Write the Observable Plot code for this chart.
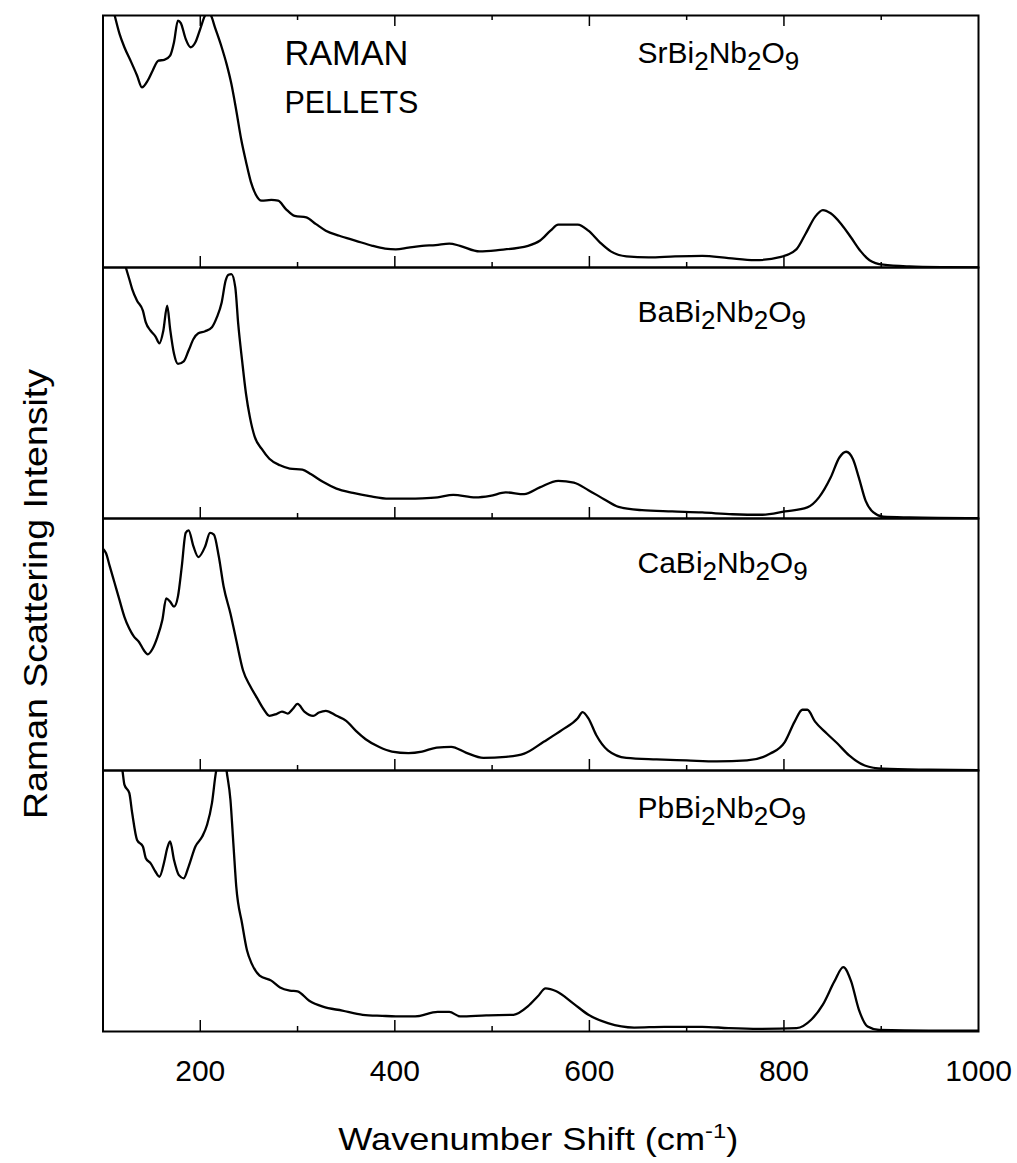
<!DOCTYPE html>
<html>
<head>
<meta charset="utf-8">
<script src="https://cdn.jsdelivr.net/npm/d3@7"></script>
<script src="https://cdn.jsdelivr.net/npm/@observablehq/plot@0.6"></script>
<style>
  body { margin: 0; background: #fff; }
  #chart { position: relative; width: 1017px; height: 1163px; background: #fff;
           font-family: "Liberation Sans", Arial, Helvetica, sans-serif; color: #000; }
  #chart svg { position: absolute; left: 0; overflow: visible; }
</style>
</head>
<body>
<div id="chart"></div>
<script>
// Raman spectra of Aurivillius-phase pellets: [wavenumber shift (cm-1), relative intensity (% of panel full scale)]
const srSpectrum = [
  [100,118],[106,109],[112,100],[117,92.7],[122,87.4],[129,81.5],[135,76.2],[140,71.5],[146,74.2],
  [151,78.1],[157,82.1],[163,82.4],[169,84.1],[173,89.4],[177,98],[180,97],[185,90.7],[190,87.4],
  [195,89.4],[200,94.7],[205,100],[208,101],[211,100],[215,95.4],[222,87.4],[227,80.8],[232,72.8],
  [237,62.3],[242,51],[247,42],[252,34],[257,29],[263,26.5],[273,26.8],[280,26.5],[288,23.2],
  [297,20.5],[309,19.9],[319,17.2],[329,14.6],[343,12.6],[360,10.6],[377,8.6],[390,7.5],[401,7.2],
  [414,7.9],[428,8.6],[442,8.9],[456,9.5],[467,8.6],[487,6.4],[506,6.9],[537,8.6],[549,10.6],
  [560,14.6],[568,17],[588,17],[599,14.6],[611,9.9],[622,6.4],[638,4.4],[661,4],[688,4.4],[716,4.6],
  [743,3.7],[770,2.9],[797,4.2],[813,7.3],[822,13.2],[832,20.1],[840,22.8],[848,21.5],[859,17.2],
  [869,11.9],[879,6.4],[888,2.9],[902,1.1],[929,0.4],[968,0.1],[1000,0]
];
const baSpectrum = [
  [100,126],[112,113],[124,99.3],[127,95.4],[130,91.4],[135,86.8],[141,82.8],[144,78.1],[149,74.8],
  [154,72.5],[158,69.8],[162,74.8],[166,84.8],[169,75.5],[173,65.6],[177,61.6],[183,62.6],[188,66.9],
  [193,71.5],[198,73.8],[205,74.6],[212,76.2],[217,80.1],[222,86.1],[226,94.7],[229,97.1],[232,97.4],
  [236,92.1],[239,77.5],[243,62.9],[247,49.7],[251,40.4],[256,32.5],[263,27.8],[271,23.8],[282,21.2],
  [292,19.9],[305,19.5],[314,17.6],[326,14.6],[340,11.9],[357,10.2],[374,8.9],[394,7.9],[414,7.9],
  [428,8.0],[444,8.4],[460,9.4],[483,8.4],[498,9.0],[514,10.4],[533,9.7],[549,12.4],[568,15],
  [584,14.3],[599,11.3],[615,7.7],[630,4.6],[654,3.3],[685,2.8],[716,2.4],[747,1.7],[778,1.5],
  [801,2.8],[824,4.4],[836,8.4],[848,16.3],[857,24.3],[864,26.6],[871,23.6],[877,16.3],[884,7],
  [892,2.4],[902,0.7],[929,0.4],[1000,0.1]
];
const caSpectrum = [
  [100,88],[103,86.3],[107,81],[112,74.3],[117,67.6],[122,61],[127,56.3],[132,53],[137,51],[142,47.7],
  [146,46.1],[151,48.3],[156,53],[161,59.7],[165,68.3],[169,67],[173,65],[177,69],[181,81],[185,94.3],
  [188,95.3],[193,88.9],[198,84.7],[205,88.9],[210,94.3],[214,93.6],[219,85],[224,73],[231,62.3],
  [237,51.7],[244,39.7],[251,33.7],[258,29],[265,24.4],[271,21.7],[278,22.4],[284,23.4],[290,22.6],
  [295,24.4],[300,26.4],[307,23.4],[316,21.7],[322,23],[329,23.7],[340,21.7],[350,19.7],[360,15.7],
  [370,12.4],[384,9.3],[397,7.5],[414,6.9],[428,7.5],[443,9.1],[458,9.4],[473,7.1],[491,5],[514,5.4],
  [533,6.7],[553,11.4],[572,16.1],[588,20.7],[593,23.2],[599,20.7],[607,14.1],[619,8],[638,5],
  [669,4.4],[700,4],[731,3.6],[762,4],[786,6.7],[801,11.4],[811,19.4],[819,24.1],[824,24.1],[832,19.4],
  [844,14.7],[855,10.7],[867,6],[883,2],[902,0.7],[949,0.3],[1000,0.1]
];
const pbSpectrum = [
  [100,135],[110,118],[120,100],[122,94.6],[127,91.4],[130,83.7],[135,73.4],[141,70.9],[144,66.4],
  [149,64.4],[154,61.2],[158,59.3],[163,65.1],[166,70.2],[169,72.8],[173,65.7],[178,59.9],[183,58.7],
  [188,63.2],[195,70.9],[202,74.7],[207,79.2],[212,87.5],[216,99.1],[219,104],[222,112],[225,106],
  [227,100],[231,88.8],[234,72.1],[237,55.5],[243,41.3],[248,31.1],[253,25.9],[261,21.4],[273,19.5],
  [282,16.9],[292,15.7],[300,15.4],[312,11.8],[326,9.5],[346,8],[367,6.4],[387,6],[401,5.8],[421,5.8],
  [444,7.5],[456,7.5],[467,5.8],[494,6.2],[522,6.4],[537,9.7],[547,13.5],[555,16.5],[566,15.4],
  [584,10.6],[599,6.4],[619,3.2],[646,1.5],[677,1.8],[716,1.8],[743,1.3],[774,1],[813,1.3],[828,4.5],
  [840,10.3],[852,19.3],[861,24.7],[869,19.3],[877,8.4],[886,1.9],[898,0.6],[949,0.3],[1000,0.3]
];

const compounds = ["SrBi2Nb2O9", "BaBi2Nb2O9", "CaBi2Nb2O9", "PbBi2Nb2O9"];
const spectra = [srSpectrum, baSpectrum, caSpectrum, pbSpectrum];
const xDomain = [100, 1000];
const majorTicks = [200, 400, 600, 800];
const minorTicks = [300, 500, 700, 900];
const tickLabels = [200, 400, 600, 800, 1000];

// stacked panel geometry (pixels)
const layout = [
  {top: 0,   marginTop: 15, inner: 252, marginBottom: 0,   labelDy: 48},
  {top: 267, marginTop: 0,  inner: 251, marginBottom: 0,   labelDy: 55},
  {top: 518, marginTop: 0,  inner: 252, marginBottom: 0,   labelDy: 55},
  {top: 770, marginTop: 0,  inner: 261, marginBottom: 132, labelDy: 48}
];

const W = 1017, ML = 102.5, MR = 39;
const chart = document.getElementById("chart");

// chemical formula with subscripted digits
function formula(sel, text, x, y) {
  const t = sel.append("text").attr("x", x).attr("y", y).attr("text-anchor", "start")
    .attr("font-size", 30).attr("fill", "#000");
  let wasSub = false;
  for (const part of text.match(/\d+|\D+/g)) {
    const isSub = /\d/.test(part);
    const dy = isSub && !wasSub ? 7 : (!isSub && wasSub ? -7 : 0);
    t.append("tspan").attr("dy", dy).attr("font-size", isSub ? 26 : 30).text(part);
    wasSub = isSub;
  }
  return t;
}

layout.forEach((p, i) => {
  const last = i === layout.length - 1;
  const fh = p.inner;
  const marks = [
    Plot.frame({strokeWidth: 2}),
    Plot.tickX(majorTicks, {x: d => d, insetTop: fh - 11, strokeWidth: 1.5}),
    Plot.tickX(minorTicks, {x: d => d, insetTop: fh - 5, strokeWidth: 1.5}),
    Plot.line(spectra[i], {x: d => d[0], y: d => d[1], stroke: "#000", strokeWidth: 2.3,
      curve: "monotone-x", clip: true})
  ];
  if (i === 0) {
    marks.push(Plot.tickX(majorTicks, {x: d => d, insetBottom: fh - 11, strokeWidth: 1.5}));
    marks.push(Plot.tickX(minorTicks, {x: d => d, insetBottom: fh - 5, strokeWidth: 1.5}));
  }
  if (last) {
    marks.push(Plot.axisX(tickLabels, {anchor: "bottom", tickSize: 0, tickPadding: 28,
      fontSize: 30, label: null, tickFormat: d => String(d)}));
  }
  const plot = Plot.plot({
    width: W,
    height: p.marginTop + fh + p.marginBottom,
    marginLeft: ML, marginRight: MR,
    marginTop: p.marginTop, marginBottom: p.marginBottom,
    x: last ? {domain: xDomain} : {domain: xDomain, axis: null},
    y: {domain: [0, 100], axis: null},
    style: {background: "transparent", fontFamily: "Liberation Sans, Arial, sans-serif",
      fontSize: "30px", color: "#000", overflow: "visible"},
    marks
  });
  plot.style.top = p.top + "px";
  chart.appendChild(plot);

  const xs = plot.scale("x");
  const svg = d3.select(plot);
  formula(svg, compounds[i], xs.apply(650), p.marginTop + p.labelDy);

  if (i === 0) {
    svg.append("text").attr("x", xs.apply(287)).attr("y", p.marginTop + 50)
      .attr("text-anchor", "start")
      .attr("font-size", 35).attr("textLength", 124).attr("lengthAdjust", "spacingAndGlyphs")
      .text("RAMAN");
    svg.append("text").attr("x", xs.apply(287)).attr("y", p.marginTop + 98)
      .attr("text-anchor", "start")
      .attr("font-size", 32).attr("textLength", 134).attr("lengthAdjust", "spacingAndGlyphs")
      .text("PELLETS");
  }
  if (last) {
    const t = svg.append("text")
      .attr("x", (ML + W - MR) / 2 - 2).attr("y", fh + 119)
      .attr("text-anchor", "middle").attr("font-size", 32)
      .attr("textLength", 400).attr("lengthAdjust", "spacingAndGlyphs");
    t.append("tspan").text("Wavenumber Shift (cm");
    t.append("tspan").attr("dy", -12).attr("font-size", 21).text("-1");
    t.append("tspan").attr("dy", 12).text(")");
  }
});

// shared vertical axis title
const ov = d3.select(chart).append("svg")
  .attr("width", 70).attr("height", 1163).style("top", "0px");
ov.append("text")
  .attr("transform", "translate(47,594) rotate(-90)")
  .attr("text-anchor", "middle").attr("font-size", 34)
  .attr("font-family", "Liberation Sans, Arial, sans-serif")
  .attr("textLength", 450).attr("lengthAdjust", "spacingAndGlyphs")
  .text("Raman Scattering Intensity");
</script>
</body>
</html>
